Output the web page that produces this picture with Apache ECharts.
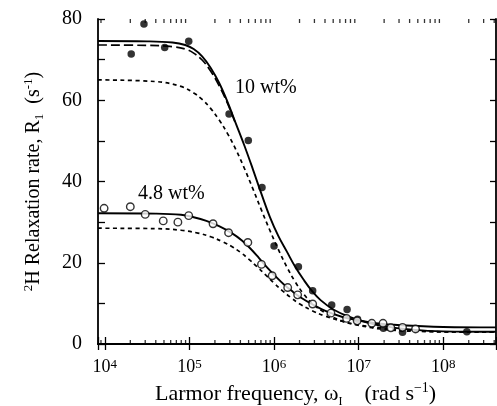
<!DOCTYPE html>
<html>
<head>
<meta charset="utf-8">
<script src="https://cdn.jsdelivr.net/npm/echarts@6/dist/echarts.min.js"></script>
<style>
html, body { margin: 0; padding: 0; background: #fff; }
#chart { width: 497px; height: 406px; }
</style>
</head>
<body>
<div id="chart"></div>
<script>
// measured points (frequency in rad s-1, R1 in s-1)
var filled10Freq = [2.05e4, 2.9e4, 5.1e4, 9.8e4, 2.94e5, 4.96e5, 7.2e5, 1.0e6, 1.94e6, 2.86e6, 4.8e6, 7.3e6, 9.7e6, 1.96e7, 3.3e7, 1.9e8]
var filled10R1 = [71.4, 78.8, 73.0, 74.5, 56.6, 50.1, 38.5, 24.1, 19.0, 13.1, 9.6, 8.5, 6.1, 3.9, 2.9, 3.0]

var open48Freq = [9.8e3, 2.0e4, 3.0e4, 4.9e4, 7.3e4, 9.8e4, 1.9e5, 2.9e5, 4.9e5, 7.1e5, 9.5e5, 1.45e6, 1.9e6, 2.86e6, 4.7e6, 7.2e6, 9.6e6, 1.43e7, 1.94e7, 2.4e7, 3.3e7, 4.7e7]
var open48R1 = [33.4, 33.8, 31.9, 30.3, 30.0, 31.6, 29.6, 27.4, 25.0, 19.6, 16.8, 13.9, 12.1, 9.85, 7.6, 6.3, 5.7, 5.1, 5.1, 4.0, 4.1, 3.7]

// fitted curves (x given as log10 of frequency)
var solid10LogF = [3.92, 4.5, 4.8, 4.95, 5.05, 5.15, 5.25, 5.35, 5.45, 5.55, 5.65, 5.75, 5.85, 5.95, 6.05, 6.15, 6.25, 6.35, 6.45, 6.55, 6.7, 6.9, 7.1, 7.3, 7.6, 8.0, 8.62]
var solid10R1 = [74.6, 74.5, 74.2, 73.6, 72.6, 70.8, 68.0, 64.3, 59.6, 54.2, 48.8, 43.0, 37.0, 31.3, 26.6, 22.8, 19.0, 15.8, 13.0, 10.8, 8.5, 6.6, 5.3, 4.4, 3.6, 3.1, 3.0]

var dashed10LogF = [3.92, 4.5, 4.8, 4.95, 5.05, 5.15, 5.25, 5.35, 5.45, 5.55]
var dashed10R1 = [73.6, 73.5, 73.2, 72.6, 71.6, 69.9, 67.2, 63.6, 59.2, 54.0]

var dotted10LogF = [3.92, 4.6, 4.9, 5.05, 5.15, 5.25, 5.35, 5.45, 5.55, 5.65, 5.75, 5.85, 5.95, 6.05, 6.15, 6.25, 6.35, 6.45, 6.6, 6.8, 7.0, 7.3, 7.7, 8.62]
var dotted10R1 = [65.0, 64.6, 63.4, 61.8, 60.2, 58.0, 55.2, 51.8, 47.8, 43.2, 38.2, 33.0, 28.0, 23.3, 19.0, 15.3, 12.3, 10.0, 7.7, 5.7, 4.6, 3.6, 3.1, 2.9]

var solid48LogF = [3.92, 4.6, 4.9, 5.05, 5.2, 5.35, 5.5, 5.62, 5.72, 5.82, 5.92, 6.02, 6.12, 6.22, 6.32, 6.45, 6.6, 6.8, 7.0, 7.2, 7.5, 8.0, 8.62]
var solid48R1 = [32.2, 32.1, 31.8, 31.2, 30.3, 29.0, 27.3, 25.5, 23.5, 21.2, 18.8, 16.6, 14.6, 12.9, 11.4, 9.8, 8.2, 6.7, 5.8, 5.1, 4.6, 4.2, 4.1]

var dotted48LogF = [3.92, 4.6, 4.9, 5.1, 5.25, 5.4, 5.5, 5.6, 5.7, 5.8, 5.9, 6.0, 6.1, 6.2, 6.3, 6.45, 6.6, 6.8, 7.0, 7.3, 7.6, 8.0, 8.62]
var dotted48R1 = [28.5, 28.4, 28.0, 27.3, 26.4, 25.1, 24.0, 22.6, 20.9, 19.0, 17.0, 15.0, 13.1, 11.4, 9.9, 8.2, 6.9, 5.6, 4.7, 3.9, 3.4, 3.0, 2.9]

var xMin = Math.log10(8300)
var xMax = Math.log10(4.2e8)
var yMin = 0
var yMax = 80

// minor log ticks 2..9 x 10^n
var minorTicks = []
for (var e = 3; e <= 8; e++) {
  for (var k = 2; k <= 9; k++) {
    var v = Math.log10(k * Math.pow(10, e))
    if (v > xMin && v < xMax) minorTicks.push(v)
  }
}

var serif = "'Liberation Serif', 'Times New Roman', serif"

function pts (xs, ys, isLog) {
  return xs.map(function (x, i) { return [isLog ? x : Math.log10(x), ys[i]] })
}

function curve (data, type, width) {
  return {
    type: 'line',
    data: data,
    showSymbol: false,
    smooth: 0.4,
    silent: true,
    z: 2,
    lineStyle: { color: '#000', width: width, type: type }
  }
}

function xLabel (v) {
  if (Math.abs(v - Math.round(v)) > 1e-6) return ''
  return '10{sup|' + Math.round(v) + '}'
}

var axisLineStyle = { lineStyle: { color: '#000', width: 1.8 } }

var option = {
  animation: false,
  backgroundColor: '#fff',
  grid: { left: 98, top: 19, right: 1, bottom: 62, containLabel: false, outerBoundsMode: 'none' },
  xAxis: [
    {
      type: 'value', min: xMin, max: xMax, position: 'bottom',
      splitLine: { show: false },
      axisLine: axisLineStyle,
      axisTick: { inside: true, length: 7, lineStyle: { color: '#000', width: 1.3 } },
      axisLabel: {
        margin: 14, color: '#000', fontFamily: serif, fontSize: 18,
        formatter: xLabel,
        rich: { sup: { fontFamily: serif, fontSize: 13, verticalAlign: 'top', color: '#000' } }
      }
    },
    {
      type: 'value', min: xMin, max: xMax, position: 'top',
      splitLine: { show: false },
      axisLine: axisLineStyle,
      axisTick: { inside: true, length: 6, lineStyle: { color: '#000', width: 1.3 } },
      axisLabel: { show: false }
    }
  ],
  yAxis: [
    {
      type: 'value', min: yMin, max: yMax, interval: 10, position: 'left',
      splitLine: { show: false },
      axisLine: axisLineStyle,
      axisTick: { inside: true, length: 7, lineStyle: { color: '#000', width: 1.3 } },
      axisLabel: {
        margin: 16, color: '#000', fontFamily: serif, fontSize: 20,
        formatter: function (v) { return v % 20 === 0 ? v : '' }
      },
      name: '{sup|2}H Relaxation rate, R{sub|1}  (s{sup|-1})',
      nameLocation: 'middle',
      nameGap: 52,
      nameTextStyle: {
        color: '#000', fontFamily: serif, fontSize: 20, lineHeight: 24,
        rich: {
          sup: { fontFamily: serif, fontSize: 13, verticalAlign: 'top', color: '#000' },
          sub: { fontFamily: serif, fontSize: 13, verticalAlign: 'bottom', color: '#000' }
        }
      }
    },
    {
      type: 'value', min: yMin, max: yMax, interval: 10, position: 'right',
      splitLine: { show: false },
      axisLine: axisLineStyle,
      axisTick: { inside: true, length: 6, lineStyle: { color: '#000', width: 1.3 } },
      axisLabel: { show: false }
    }
  ],
  graphic: [
    {
      type: 'text', left: 235, top: 78,
      style: { text: '10 wt%', font: '20px ' + serif, fill: '#000' }
    },
    {
      type: 'text', left: 138, top: 184,
      style: { text: '4.8 wt%', font: '20px ' + serif, fill: '#000' }
    },
    {
      type: 'text', left: 155, top: 381,
      style: {
        text: 'Larmor frequency, \u03c9{sub|I}    (rad s{sup|\u22121})',
        font: '22px ' + serif, fill: '#000', lineHeight: 27,
        rich: {
          sup: { fontFamily: serif, fontSize: 14, verticalAlign: 'top', fill: '#000' },
          sub: { fontFamily: serif, fontSize: 12, verticalAlign: 'bottom', fill: '#000' }
        }
      }
    }
  ],
  series: [
    curve(pts(solid10LogF, solid10R1, true), 'solid', 1.9),
    curve(pts(dashed10LogF, dashed10R1, true), [9, 4], 1.7),
    curve(pts(dotted10LogF, dotted10R1, true), [4, 3.5], 1.7),
    curve(pts(solid48LogF, solid48R1, true), 'solid', 1.9),
    curve(pts(dotted48LogF, dotted48R1, true), [4, 3.5], 1.7),
    {
      name: '10 wt%', type: 'scatter', z: 5, silent: true,
      data: pts(filled10Freq, filled10R1, false),
      symbol: 'circle', symbolSize: 7.5,
      itemStyle: { color: '#000' }
    },
    {
      name: '4.8 wt%', type: 'scatter', z: 5, silent: true,
      data: pts(open48Freq, open48R1, false),
      symbol: 'circle', symbolSize: 7.5,
      itemStyle: { color: '#fff', borderColor: '#000', borderWidth: 1.4 }
    },
    {
      // minor ticks on bottom axis
      type: 'scatter', z: 6, silent: true,
      data: minorTicks.map(function (v) { return [v, yMin] }),
      symbol: 'rect', symbolSize: [1.3, 4], symbolOffset: [0, -2],
      itemStyle: { color: '#000' }
    },
    {
      // minor ticks on top axis
      type: 'scatter', z: 6, silent: true,
      data: minorTicks.map(function (v) { return [v, yMax] }),
      symbol: 'rect', symbolSize: [1.3, 4], symbolOffset: [0, 2],
      itemStyle: { color: '#000' }
    }
  ]
}

var myChart = echarts.init(document.getElementById('chart'))
myChart.setOption(option)
</script>
</body>
</html>
